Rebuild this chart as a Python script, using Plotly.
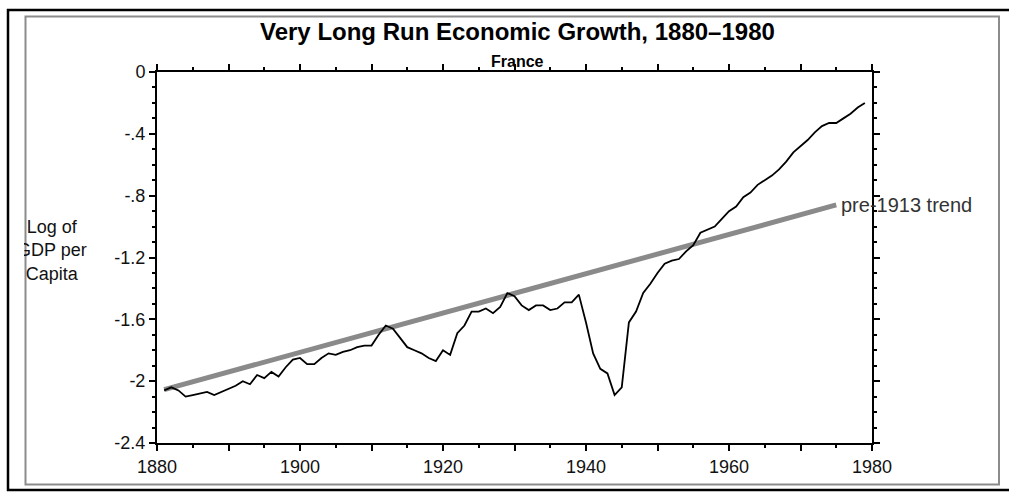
import plotly.graph_objects as go

# ---- data ----
years = list(range(1881, 1980))
log_gdp = [
    -2.06, -2.04, -2.06, -2.10, -2.09, -2.08, -2.07, -2.09, -2.07, -2.05,   # 1881-1890
    -2.03, -2.00, -2.02, -1.96, -1.98, -1.94, -1.97, -1.91, -1.86, -1.85,   # 1891-1900
    -1.89, -1.89, -1.85, -1.82, -1.83, -1.81, -1.80, -1.78, -1.77, -1.77,   # 1901-1910
    -1.70, -1.64, -1.66, -1.72, -1.78, -1.80, -1.82, -1.85, -1.87, -1.80,   # 1911-1920
    -1.83, -1.69, -1.64, -1.55, -1.55, -1.53, -1.56, -1.52, -1.43, -1.45,   # 1921-1930
    -1.51, -1.54, -1.51, -1.51, -1.54, -1.53, -1.49, -1.49, -1.44, -1.62,   # 1931-1940
    -1.82, -1.92, -1.95, -2.09, -2.04, -1.62, -1.55, -1.43, -1.37, -1.30,   # 1941-1950
    -1.24, -1.22, -1.21, -1.16, -1.12, -1.04, -1.02, -1.00, -0.95, -0.90,   # 1951-1960
    -0.87, -0.81, -0.78, -0.73, -0.70, -0.67, -0.63, -0.58, -0.52, -0.48,   # 1961-1970
    -0.44, -0.39, -0.35, -0.33, -0.33, -0.30, -0.27, -0.23, -0.20,          # 1971-1979
]
trend_years = [1881, 1975]
trend_values = [-2.055, -0.86]
trend_label = "pre-1913 trend"

x_tickvals = [1880, 1890, 1900, 1910, 1920, 1930, 1940, 1950, 1960, 1970, 1980]
x_ticktext = ["1880", "", "1900", "", "1920", "", "1940", "", "1960", "", "1980"]
y_tickvals = [0, -0.4, -0.8, -1.2, -1.6, -2.0, -2.4]
y_ticktext = ["0", "-.4", "-.8", "-1.2", "-1.6", "-2", "-2.4"]

title_text = "Very Long Run Economic Growth, 1880\u20131980"
subtitle_text = "France"
ylabel_text = "Log of<br>GDP per<br>Capita"

# ---- layout geometry (pixels) ----
W, H = 1009, 492
L, R, T, B = 157, 872, 72, 443


def px(xp):
    return (xp - L) / (R - L)


def py(yp):
    return (B - yp) / (B - T)


FONT = "Liberation Sans, Arial, sans-serif"

fig = go.Figure()
fig.add_trace(go.Scatter(
    x=trend_years, y=trend_values, mode="lines",
    line=dict(color="#8a8a8a", width=5), hoverinfo="skip", showlegend=False,
))
fig.add_trace(go.Scatter(
    x=years, y=log_gdp, mode="lines",
    line=dict(color="black", width=1.8), showlegend=False,
))

axis_common = dict(
    showline=True, linecolor="black", linewidth=2, mirror="ticks",
    ticks="outside", tickcolor="black", tickwidth=1.5, ticklen=6,
    showgrid=False, zeroline=False,
    tickfont=dict(family=FONT, size=18, color="#111"),
)
fig.update_xaxes(
    range=[1880, 1980], tickmode="array", tickvals=x_tickvals, ticktext=x_ticktext,
    minor=dict(dtick=5, tick0=1880, ticks="outside", ticklen=3, tickcolor="black", tickwidth=1.5),
    **axis_common,
)
fig.update_yaxes(
    range=[-2.4, 0], tickmode="array", tickvals=y_tickvals, ticktext=y_ticktext,
    minor=dict(dtick=0.1, tick0=0, ticks="outside", ticklen=3, tickcolor="black", tickwidth=1.5),
    **axis_common,
)

annotations = [
    dict(text="<b>" + title_text + "</b>", x=px(517), y=py(32), xref="paper", yref="paper",
         showarrow=False, xanchor="center", yanchor="middle",
         font=dict(family=FONT, size=24, color="black")),
    dict(text="<b>" + subtitle_text + "</b>", x=px(517), y=py(62), xref="paper", yref="paper",
         showarrow=False, xanchor="center", yanchor="middle",
         font=dict(family=FONT, size=16, color="black")),
    dict(text=trend_label, x=trend_years[-1], y=trend_values[-1], xref="x", yref="y",
         showarrow=False, xanchor="left", yanchor="middle", xshift=3,
         font=dict(family=FONT, size=20, color="#333")),
    dict(text=ylabel_text, x=px(52), y=py(250), xref="paper", yref="paper",
         showarrow=False, xanchor="center", yanchor="middle", align="center",
         font=dict(family=FONT, size=18, color="#111")),
    # white mask reproducing the clipping of the axis label at the frame edge
    dict(text=" ", x=px(17.2), y=py(250), xref="paper", yref="paper",
         showarrow=False, xanchor="center", yanchor="middle",
         width=14, height=90, bgcolor="white", borderpad=0, borderwidth=0),
]

shapes = [
    # outer black frame
    dict(type="rect", xref="paper", yref="paper", x0=px(8), x1=px(1015), y0=py(490), y1=py(10),
         line=dict(color="black", width=2.5), fillcolor="rgba(0,0,0,0)", layer="below"),
    # inner grey frame
    dict(type="rect", xref="paper", yref="paper", x0=px(25.5), x1=px(999), y0=py(484.5), y1=py(16.5),
         line=dict(color="#8c8c8c", width=2), fillcolor="rgba(0,0,0,0)", layer="below"),
]

fig.update_layout(
    width=W, height=H,
    margin=dict(l=L, r=W - R, t=T, b=H - B, pad=0),
    paper_bgcolor="white", plot_bgcolor="white",
    annotations=annotations, shapes=shapes,
    font=dict(family=FONT),
)

fig.write_html(
    "out.html",
    config={"displayModeBar": False},
    post_script="document.body.style.margin='0';document.body.style.overflow='hidden';",
)
